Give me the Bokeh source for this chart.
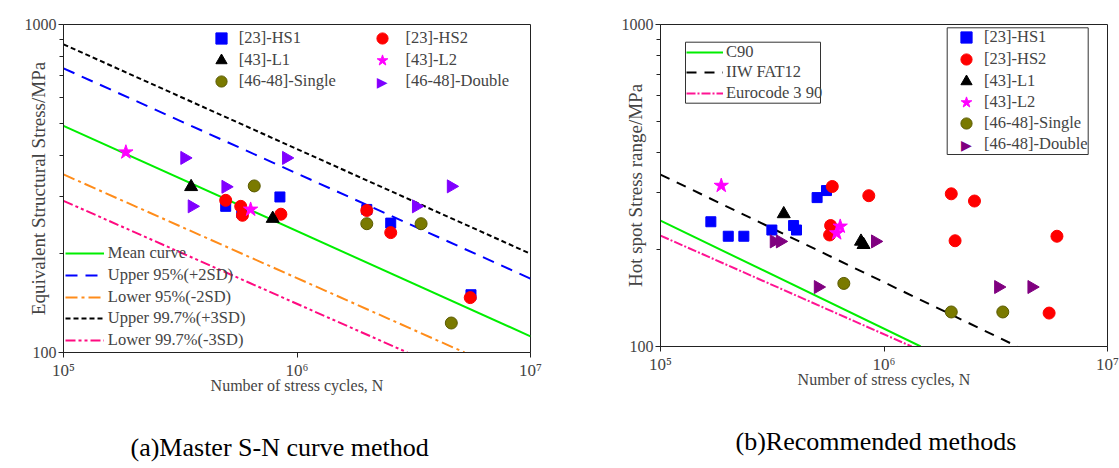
import math
from bokeh.plotting import figure
from bokeh.models import (Range1d, FixedTicker, CustomJSTickFormatter, Legend,
                          LegendItem, Title, Label, BoxAnnotation)
from bokeh.layouts import row
from bokeh.embed import file_html
from bokeh.resources import INLINE

FONT = "Liberation Serif"

# ---------------- axis ticks ----------------
x_major_ticks = [1e5, 1e6, 1e7]
y_major_ticks = [100, 1000]
y_minor_ticks = [200, 300, 400, 500, 600, 700, 800, 900]

# ---------------- panel (a): Master S-N curve method ----------------
a_hs1_N = [4.95e5, 5.8e5, 8.45e5, 1.99e6, 2.52e6, 5.56e6]
a_hs1_S = [279, 267, 298, 273, 248, 150]
a_hs2_N = [4.95e5, 5.74e5, 5.84e5, 8.53e5, 1.99e6, 2.52e6, 5.52e6]
a_hs2_S = [291, 279, 262, 264, 271, 232, 147]
a_l1_N = [3.52e5, 7.87e5]
a_l1_S = [320, 256]
a_l2_N = [1.85e5, 6.33e5]
a_l2_S = [408, 273]
a_single_N = [6.56e5, 1.99e6, 3.4e6, 4.58e6]
a_single_S = [322, 247, 247, 123]
a_double_N = [3.30e5, 9.0e5, 4.95e5, 4.57e6, 3.55e5, 3.24e6]
a_double_S = [392, 392, 320, 321, 279, 279]

mean_N = [1e5, 1e7]
mean_S = [491, 112]
up95_N = [1e5, 1e7]
up95_S = [735, 168]
lo95_N = [1e5, 5.22e6]
lo95_S = [349, 100]
up997_N = [1e5, 1e7]
up997_S = [870, 200]
lo997_N = [1e5, 2.97e6]
lo997_S = [290, 100]

# ---------------- panel (b): Recommended methods ----------------
b_hs1_N = [1.68e5, 2.01e5, 2.36e5, 3.15e5, 3.94e5, 4.06e5, 5.02e5, 5.53e5]
b_hs1_S = [244, 220, 220, 230, 237.5, 230, 290, 305]
b_hs2_N = [5.87e5, 8.55e5, 2.0e6, 2.54e6, 5.77e5, 5.71e5, 2.08e6, 5.94e6, 5.48e6]
b_hs2_S = [314, 294, 298, 283, 237.5, 222, 213, 220, 127]
b_l1_N = [3.56e5, 7.89e5, 8.1e5]
b_l1_S = [258, 212, 207]
b_l2_N = [1.87e5, 6.37e5, 6.14e5]
b_l2_S = [316, 236, 225]
b_single_N = [6.61e5, 2.0e6, 3.4e6, 4.59e6]
b_single_S = [157, 128, 128, 93.8]
b_double_N = [3.22e5, 3.43e5, 9.14e5, 5.07e5, 3.25e6, 4.58e6]
b_double_S = [212, 212, 212, 153, 153, 153]

c90_N = [1e5, 1.46e6]
c90_S = [246, 100]
iiw_N = [1e5, 3.95e6]
iiw_S = [342, 100]
ec3_N = [1e5, 1.33e6]
ec3_S = [221, 100]

XFMT = """
const sup = {"0":"\\u2070","1":"\\u00b9","2":"\\u00b2","3":"\\u00b3","4":"\\u2074",
             "5":"\\u2075","6":"\\u2076","7":"\\u2077","8":"\\u2078","9":"\\u2079"};
const e = Math.round(Math.log10(tick));
return "10" + String(e).split("").map(c => sup[c]).join("");
"""
YFMT = "return String(Math.round(tick));"


def make_fig(fw, fh, bl, bt, br, bb, ylabel, ystand):
    p = figure(x_axis_type="log", y_axis_type="log",
               x_range=Range1d(1e5, 1e7), y_range=Range1d(100, 1000),
               frame_width=fw, frame_height=fh,
               min_border_left=bl, min_border_top=bt,
               min_border_right=br, min_border_bottom=bb,
               output_backend="svg", toolbar_location=None)
    p.grid.visible = False
    p.outline_line_color = "#222222"
    p.outline_line_width = 1
    p.background_fill_color = "white"
    p.border_fill_color = "white"

    xa = p.xaxis[0]
    xa.ticker = FixedTicker(ticks=x_major_ticks, minor_ticks=[])
    xa.formatter = CustomJSTickFormatter(code=XFMT)
    xa.axis_label = "Number of stress cycles, N"
    xa.axis_label_text_font = FONT
    xa.axis_label_text_font_size = "16px"
    xa.axis_label_text_font_style = "normal"
    xa.axis_label_standoff = -6
    xa.major_label_text_font = FONT
    xa.major_label_text_font_size = "17px"
    xa.major_label_standoff = 3
    xa.major_tick_out = 5
    xa.major_tick_in = 0
    xa.axis_line_color = "#222222"
    xa.major_tick_line_color = "#222222"

    ya = p.yaxis[0]
    ya.ticker = FixedTicker(ticks=y_major_ticks, minor_ticks=y_minor_ticks)
    ya.formatter = CustomJSTickFormatter(code=YFMT)
    ya.axis_label = ylabel
    ya.axis_label_text_font = FONT
    ya.axis_label_text_font_size = "19px"
    ya.axis_label_text_font_style = "normal"
    ya.axis_label_standoff = ystand
    ya.major_label_text_font = FONT
    ya.major_label_text_font_size = "16px"
    ya.major_label_standoff = 2
    ya.major_tick_out = 5
    ya.major_tick_in = 0
    ya.minor_tick_out = 4
    ya.minor_tick_in = 0
    ya.axis_line_color = "#222222"
    ya.major_tick_line_color = "#222222"
    ya.minor_tick_line_color = "#222222"
    return p


def key_rows(p, entries, x, row_centers, glyph_w, glyph_h, standoff):
    """One single-item legend per row; row_centers are in screen px above the frame bottom."""
    for (label, rends), c in zip(entries, row_centers):
        p.add_layout(Legend(items=[LegendItem(label=label, renderers=rends)],
                            location=(x, c - glyph_h / 2), orientation="vertical",
                            margin=0, padding=0, spacing=0,
                            glyph_width=glyph_w, glyph_height=glyph_h,
                            label_height=glyph_h, label_standoff=standoff,
                            label_text_font=FONT, label_text_font_size="16.5px",
                            border_line_color=None, background_fill_alpha=0))


def key_box(p, left, right, bottom, top):
    p.add_layout(BoxAnnotation(left=left, right=right, bottom=bottom, top=top,
                               left_units="screen", right_units="screen",
                               bottom_units="screen", top_units="screen",
                               fill_color="white", fill_alpha=1,
                               line_color="#333333", line_width=1, line_alpha=1))


def tri_right_swatch(p, x, y, color):
    p.add_layout(Label(x=x, y=y, x_units="screen", y_units="screen", text="\u25b6",
                       text_align="center", text_baseline="middle",
                       text_font="DejaVu Sans", text_font_size="14px",
                       text_color=color, level="overlay"))


def add_caption(p, text, offset):
    # spacer between the x axis and the caption
    p.add_layout(Title(text=" ", text_font_size="2px", standoff=31), "below")
    p.add_layout(Title(text=text, align="left", offset=offset, standoff=0,
                       vertical_align="middle", text_font=FONT,
                       text_font_size="26px", text_font_style="normal",
                       text_color="black"), "below")


# ================= panel (a) =================
pa = make_fig(467, 328, 63, 21, 40, 119, "Equivalent Structural Stress/MPa", -27)

l_mean = pa.line(mean_N, mean_S, line_color="#00ee00", line_width=2)
l_up95 = pa.line(up95_N, up95_S, line_color="#0000ff", line_width=2, line_dash="12 8")
l_lo95 = pa.line(lo95_N, lo95_S, line_color="#ff8c1a", line_width=2, line_dash="12 4 3 4")
l_up997 = pa.line(up997_N, up997_S, line_color="black", line_width=2, line_dash="5 3")
l_lo997 = pa.line(lo997_N, lo997_S, line_color="#ff0a80", line_width=2, line_dash="10 3 3 3 3 3")

ra_hs1 = pa.scatter(a_hs1_N, a_hs1_S, marker="square", size=10, fill_color="#0000ff", line_color="#0000ff")
ra_hs2 = pa.scatter(a_hs2_N, a_hs2_S, marker="circle", size=12, fill_color="#ff0000", line_color="#ff0000")
ra_l1 = pa.scatter(a_l1_N, a_l1_S, marker="triangle", size=13, fill_color="black", line_color="black")
ra_l2 = pa.scatter(a_l2_N, a_l2_S, marker="star", size=15, fill_color="#ff00ff", line_color="#ff00ff")
ra_sg = pa.scatter(a_single_N, a_single_S, marker="circle", size=12, fill_color="#7a7a00", line_color="#5a5a00")
ra_db = pa.scatter(a_double_N, a_double_S, marker="triangle", size=13, angle=-math.pi / 2,
                   fill_color="#8000ff", line_color="#8000ff")
ra_db_key = pa.scatter([], [], marker="triangle", size=1, fill_alpha=0, line_alpha=0)

a_rows = [314, 292.3, 270.7]
key_rows(pa, [("[23]-HS1", [ra_hs1]), ("[43]-L1", [ra_l1]), ("[46-48]-Single", [ra_sg])],
         143.7, a_rows, 28, 28, 4)
key_rows(pa, [("[23]-HS2", [ra_hs2]), ("[43]-L2", [ra_l2]), ("[46-48]-Double", [ra_db_key])],
         304.6, a_rows, 28, 28, 10)
tri_right_swatch(pa, 318.6, a_rows[2], "#8000ff")
key_rows(pa, [("Mean curve", [l_mean]), ("Upper 95%(+2SD)", [l_up95]),
              ("Lower 95%(-2SD)", [l_lo95]), ("Upper 99.7%(+3SD)", [l_up997]),
              ("Lower 99.7%(-3SD)", [l_lo997])],
         1.8, [99, 77.3, 55, 34, 12.3], 39, 20, 4)
add_caption(pa, "(a)Master S-N curve method", 67)

# ================= panel (b) =================
pb = make_fig(447, 322, 90, 24, 12, 122, "Hot spot Stress range/MPa", -27)

l_c90 = pb.line(c90_N, c90_S, line_color="#00ee00", line_width=2)
l_iiw = pb.line(iiw_N, iiw_S, line_color="black", line_width=2, line_dash="10 8")
l_ec3 = pb.line(ec3_N, ec3_S, line_color="#ff1493", line_width=2, line_dash="9 2 2 2")

rb_hs1 = pb.scatter(b_hs1_N, b_hs1_S, marker="square", size=10, fill_color="#0000ff", line_color="#0000ff")
rb_hs2 = pb.scatter(b_hs2_N, b_hs2_S, marker="circle", size=12, fill_color="#ff0000", line_color="#ff0000")
rb_l1 = pb.scatter(b_l1_N, b_l1_S, marker="triangle", size=13, fill_color="black", line_color="black")
rb_l2 = pb.scatter(b_l2_N, b_l2_S, marker="star", size=15, fill_color="#ff00ff", line_color="#ff00ff")
rb_sg = pb.scatter(b_single_N, b_single_S, marker="circle", size=12, fill_color="#7a7a00", line_color="#5a5a00")
rb_db = pb.scatter(b_double_N, b_double_S, marker="triangle", size=13, angle=-math.pi / 2,
                   fill_color="#800080", line_color="#800080")
rb_db_key = pb.scatter([], [], marker="triangle", size=1, fill_alpha=0, line_alpha=0)

key_box(pb, 25, 160, 243.3, 304.3)
key_rows(pb, [("C90", [l_c90]), ("IIW FAT12", [l_iiw]), ("Eurocode 3 90", [l_ec3])],
         26, [294.3, 273.7, 252.7], 37, 20, 3)
key_box(pb, 286.7, 427.7, 192, 318.7)
b_rows = [308.7, 286.7, 265, 243.7, 223, 202]
key_rows(pb, [("[23]-HS1", [rb_hs1]), ("[23]-HS2", [rb_hs2]), ("[43]-L1", [rb_l1]),
              ("[43]-L2", [rb_l2]), ("[46-48]-Single", [rb_sg]),
              ("[46-48]-Double", [rb_db_key])],
         292, b_rows, 28, 28, 4)
tri_right_swatch(pb, 306, b_rows[5], "#800080")
add_caption(pb, "(b)Recommended methods", 75)

layout = row(pa, pb, spacing=0)
open("out.html", "w", encoding="utf-8").write(file_html(layout, INLINE))
